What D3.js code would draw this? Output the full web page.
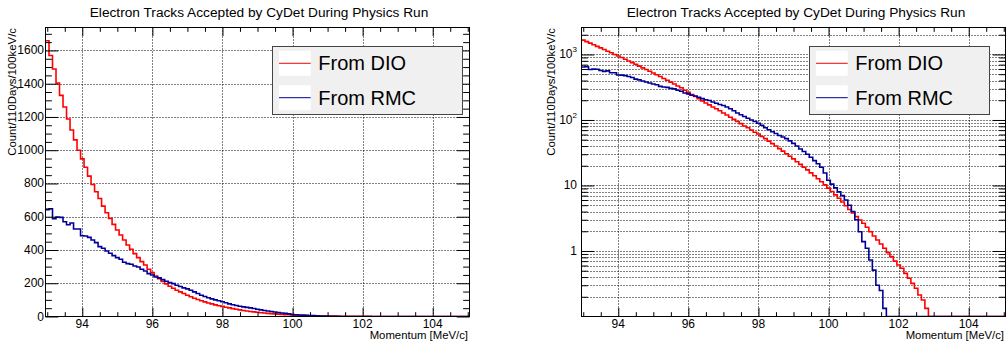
<!DOCTYPE html>
<html><head><meta charset="utf-8">
<script src="https://cdn.jsdelivr.net/npm/d3@7"></script>
<style>
body{margin:0;background:#fff;}
svg{display:block;font-family:"Liberation Sans",Arial,Helvetica,sans-serif;}
</style></head><body>
<svg id="c" width="1006" height="348"></svg>
<script>
// ---------------- data ----------------
const chartTitle = "Electron Tracks Accepted by CyDet During Physics Run";
const xTitle = "Momentum [MeV/c]";
const yTitle = "Count/110Days/100keV/c";
const seriesNames = ["From DIO", "From RMC"];
const seriesColors = ["#ff0000", "#000099"];
const binWidth = 0.1;               // MeV (100 keV/c)
const firstBinCenter = 93.0;
const binCenters = d3.range(121).map(i => +(firstBinCenter + binWidth * i).toFixed(2));

const dioCounts = [
  1658,1570,1488,1404,1330,1260,1188,1122,1062,1000,
  948,898,844,794,750,710,664,624,590,554,
  520,490,460,430,404,378,354,330,310,284,
  264,244,228,211,196,182,170,158,148,138,
  128,119,110,102,95,88,81,76,70,65,
  61,56,52,47.5,43.5,40,36.5,33.5,30.5,28,
  25.5,23,21,19,17.3,15.6,14.1,12.7,11.4,10.2,
  9.1,8.1,7.2,6.4,5.6,4.9,4.3,3.8,3.35,2.97,
  2.65,2.3,1.97,1.69,1.47,1.28,1.10,0.943,0.82,0.70,
  0.61,0.544,0.456,0.383,0.32,0.27,0.213,0.179,0.133,0,
  0,0,0,0,0,0,0,0,0,0,
  0,0,0,0,0,0,0,0,0,0,
  0
];
const rmcCounts = [
  642,648,588,598,596,570,552,562,526,526,
  486,484,476,460,444,420,410,394,380,366,
  354,344,326,318,314,304,298,284,274,258,
  250,238,232,222,212,204,198,188,180,172,
  166,158,148,138,128,120,113,106,100,95,
  89,83,76,71,66,62,58,55,52,48,
  44,40,36,33,30,27,24,21.5,19,15.5,
  12,10.5,9.2,8.0,7.0,6.0,5.0,4.0,3.0,1.97,
  1.39,1.10,0.73,0.51,0.3,0.25,0.133,0,0,0,
  0,0,0,0,0,0,0,0,0,0,
  0,0,0,0,0,0,0,0,0,0,
  0,0,0,0,0,0,0,0,0,0,
  0
];
const xRange = [92.95, 105.05];
const xTickLabels = [94, 96, 98, 100, 102, 104];
const linTickLabels = [0, 200, 400, 600, 800, 1000, 1200, 1400, 1600];
const linMax = 1738;
const logTickLabels = [1, 10, 100, 1000];
const logRange = [0.1, 2580];

// ---------------- drawing ----------------
const svg = d3.select("#c");
svg.append("rect").attr("width",1006).attr("height",348).attr("fill","#fff");

const TOP = 27.5, BOT = 316.5;
const FONT_LBL = 12, FONT_TTL = 11.35;

function drawPanel(cfg) {
  const g = svg.append("g");
  const x = d3.scaleLinear().domain(xRange).range([cfg.x0, cfg.x1]);
  let y;
  if (cfg.log) y = d3.scaleLog().domain(logRange).range([BOT, TOP]).clamp(true);
  else y = d3.scaleLinear().domain([0, linMax]).range([BOT, TOP]);
  const W = cfg.x1 - cfg.x0, H = BOT - TOP;
  const yTickLen = 0.03 * W, xTickLen = 0.03 * H;

  // grid
  const grid = g.append("g").attr("stroke","#000").attr("stroke-width",1)
      .attr("stroke-dasharray","1,2").attr("fill","none");
  xTickLabels.forEach(v => grid.append("line")
      .attr("x1", Math.round(x(v))+0.5).attr("x2", Math.round(x(v))+0.5)
      .attr("y1", TOP).attr("y2", BOT));
  let yGridVals;
  if (cfg.log) {
    yGridVals = [];
    [0.1, 1, 10, 100, 1000].forEach(d => { for (let k = 1; k <= 9; k++) { const v = d*k; if (v > logRange[0] && v < logRange[1]) yGridVals.push(v); } });
  } else yGridVals = linTickLabels.filter(v => v > 0);
  yGridVals.forEach(v => grid.append("line")
      .attr("x1", cfg.x0).attr("x2", cfg.x1)
      .attr("y1", Math.round(y(v))+0.5).attr("y2", Math.round(y(v))+0.5));

  // clip
  const cid = "clip" + cfg.id;
  svg.append("clipPath").attr("id", cid).append("rect")
     .attr("x", cfg.x0).attr("y", TOP).attr("width", W).attr("height", H);

  // histograms
  const line = d3.line().x(d => x(d[0])).y(d => y(d[1])).curve(d3.curveStepAfter);
  [dioCounts, rmcCounts].forEach((arr, si) => {
    const pts = binCenters.map((c, i) => [c - binWidth/2, arr[i]]);
    pts.push([binCenters[binCenters.length-1] + binWidth/2, arr[arr.length-1]]);
    g.append("path").attr("clip-path", `url(#${cid})`)
      .attr("d", line(pts)).attr("fill","none")
      .attr("stroke", seriesColors[si]).attr("stroke-width", 1.6)
      .attr("stroke-linejoin","miter");
  });

  // axes (inward ticks)
  const minorX = d3.range(93, 105.01, 0.5).filter(v => !xTickLabels.includes(v));
  const ax = (axisFn, scale, vals, len, tr) => {
    const a = g.append("g").attr("transform", tr)
      .call(axisFn(scale).tickValues(vals).tickSize(-len).tickFormat(""));
    a.selectAll(".domain").remove();
    a.selectAll("line").attr("stroke","#000").attr("stroke-width",1);
    return a;
  };
  ax(d3.axisBottom, x, xTickLabels, xTickLen, `translate(0,${BOT})`);
  ax(d3.axisBottom, x, minorX, xTickLen/2, `translate(0,${BOT})`);
  ax(d3.axisTop, x, xTickLabels, xTickLen, `translate(0,${TOP})`);
  ax(d3.axisTop, x, minorX, xTickLen/2, `translate(0,${TOP})`);
  let yMaj, yMin;
  if (cfg.log) {
    yMaj = logTickLabels;
    yMin = yGridVals.filter(v => !logTickLabels.includes(v));
  } else {
    yMaj = linTickLabels;
    yMin = d3.range(50, linMax, 50).filter(v => v % 200 !== 0);
  }
  ax(d3.axisLeft, y, yMaj, yTickLen, `translate(${cfg.x0},0)`);
  ax(d3.axisLeft, y, yMin, yTickLen/2, `translate(${cfg.x0},0)`);
  ax(d3.axisRight, y, yMaj, yTickLen, `translate(${cfg.x1},0)`);
  ax(d3.axisRight, y, yMin, yTickLen/2, `translate(${cfg.x1},0)`);

  // frame
  g.append("rect").attr("x", cfg.x0).attr("y", TOP).attr("width", W).attr("height", H)
    .attr("fill","none").attr("stroke","#000").attr("stroke-width",1);

  // tick labels
  const tl = g.append("g").attr("font-size", FONT_LBL).attr("fill","#000");
  xTickLabels.forEach(v => tl.append("text").attr("x", x(v)).attr("y", 328.3)
      .attr("text-anchor","middle").text(v));
  if (cfg.log) {
    yMaj.forEach(v => {
      const t = tl.append("text").attr("x", cfg.x0 - 4.5).attr("y", y(v))
        .attr("text-anchor","end").attr("dominant-baseline","central");
      if (v >= 100) {
        t.append("tspan").text("10");
        t.append("tspan").attr("font-size", 8).attr("dy", -5).text(String(Math.round(Math.log10(v))));
      } else t.text(v);
    });
  } else {
    yMaj.forEach(v => tl.append("text").attr("x", cfg.x0 - 1.5).attr("y", y(v))
      .attr("text-anchor","end").attr("dominant-baseline","central").text(v));
  }

  // titles
  g.append("text").attr("x", cfg.titleX).attr("y", 16.7).attr("text-anchor","middle")
    .attr("font-size", 13.7).text(chartTitle);
  g.append("text").attr("x", cfg.x1 - 1.5).attr("y", 339.3).attr("text-anchor","end")
    .attr("font-size", FONT_TTL).text(xTitle);
  g.append("text").attr("transform", `translate(${cfg.yTitleX},28) rotate(-90)`)
    .attr("text-anchor","end").attr("font-size", FONT_TTL).text(yTitle);

  // legend
  const L = cfg.legend;
  const lg = g.append("g");
  lg.append("rect").attr("x", L.x).attr("y", 46.5).attr("width", L.w).attr("height", 68)
    .attr("fill","#f0f0f0").attr("stroke","#444").attr("stroke-width",1);
  seriesNames.forEach((name, i) => {
    const cy = 63.3 + i * 34.4;
    lg.append("rect").attr("x", L.x + 6.5).attr("y", cy - 12.5).attr("width", 31.7).attr("height", 25)
      .attr("fill","#fff");
    lg.append("line").attr("x1", L.x + 6.5).attr("x2", L.x + 38.2).attr("y1", cy).attr("y2", cy)
      .attr("stroke", seriesColors[i]).attr("stroke-width", 1);
    lg.append("text").attr("x", L.x + 45.8).attr("y", cy).attr("dominant-baseline","central")
      .attr("font-size", 20).text(name);
  });
}

drawPanel({id:"L", x0:45.5, x1:469.5, log:false, titleX:259, yTitleX:16, legend:{x:272.5, w:190}});
drawPanel({id:"R", x0:581.5, x1:1005.5, log:true, titleX:796, yTitleX:554.5, legend:{x:809.5, w:180}});
</script>
</body></html>
